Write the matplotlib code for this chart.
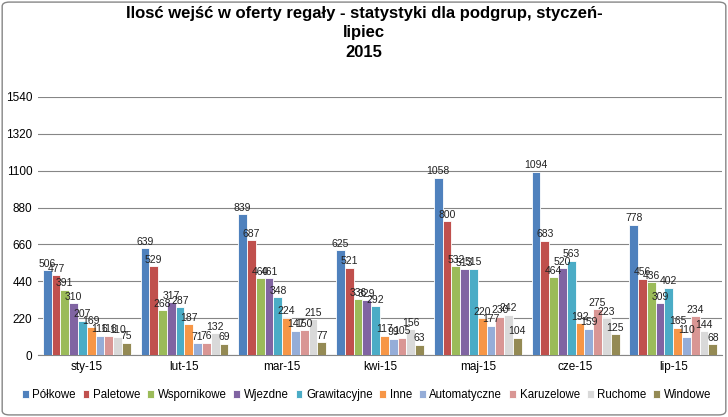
import matplotlib.pyplot as plt
import numpy as np
from matplotlib.patches import FancyBboxPatch

months = ["sty-15", "lut-15", "mar-15", "kwi-15", "maj-15", "cze-15", "lip-15"]
series_names = ["Półkowe", "Paletowe", "Wspornikowe", "Wjezdne", "Grawitacyjne",
                "Inne", "Automatyczne", "Karuzelowe", "Ruchome", "Windowe"]
polkowe = [506, 639, 839, 625, 1058, 1094, 778]
paletowe = [477, 529, 687, 521, 800, 683, 456]
wspornikowe = [391, 268, 460, 336, 532, 464, 436]
wjezdne = [310, 317, 461, 329, 513, 520, 309]
grawitacyjne = [207, 287, 348, 292, 515, 563, 402]
inne = [169, 187, 224, 117, 220, 192, 165]
automatyczne = [116, 71, 147, 99, 177, 159, 110]
karuzelowe = [116, 76, 150, 105, 230, 275, 234]
ruchome = [110, 132, 215, 156, 242, 223, 144]
windowe = [75, 69, 77, 63, 104, 125, 68]
series = [polkowe, paletowe, wspornikowe, wjezdne, grawitacyjne,
          inne, automatyczne, karuzelowe, ruchome, windowe]
colors = ["#4F81BD", "#C0504D", "#9BBB59", "#8064A2", "#4BACC6",
          "#F79646", "#95ADD8", "#D99694", "#D9D9D9", "#948A54"]
yticks = [0, 220, 440, 660, 880, 1100, 1320, 1540]

plt.rcParams['font.family'] = ['Liberation Sans Narrow', 'Liberation Sans', 'DejaVu Sans']

fig = plt.figure(figsize=(7.28, 4.17), dpi=100)
ax = fig.add_axes([0.052, 0.148, 0.94, 0.62])

x = np.arange(len(months))
w = 0.09
for i, (name, vals, c) in enumerate(zip(series_names, series, colors)):
    pos = x + (i - 4.5) * w
    ax.bar(pos, vals, width=w, color=c, edgecolor="white", linewidth=0.6,
           label=name, zorder=3)
    for p, v in zip(pos, vals):
        ax.text(p, v + 8, str(v), ha="center", va="bottom", fontsize=7.5,
                family=["Liberation Sans", "DejaVu Sans"],
                color="#222222", zorder=4)

ax.set_xlim(-0.5, len(months) - 0.5)
ax.set_ylim(0, 1540)
ax.set_yticks(yticks)
ax.set_yticklabels([str(t) for t in yticks], fontsize=8.5)
ax.set_xticks(x)
ax.set_xticklabels(months, fontsize=8.5)
ax.tick_params(axis="both", length=0, pad=4)
ax.yaxis.grid(True, color="#868686", linewidth=0.8, zorder=0)
for s in ["top", "right", "left"]:
    ax.spines[s].set_visible(False)
ax.spines["bottom"].set_color("#868686")

fig.suptitle("Ilosć wejść w oferty regały - statystyki dla podgrup, styczeń-\nlipiec\n2015",
             fontsize=12, fontweight="bold", y=0.985, linespacing=1.35)

ax.legend(loc="upper center", bbox_to_anchor=(0.48, -0.09), ncol=10,
          frameon=False, fontsize=8.3, handlelength=0.6, handleheight=0.6,
          handletextpad=0.3, columnspacing=0.6)

fig.patches.append(FancyBboxPatch((0.003, 0.005), 0.994, 0.99,
                                  boxstyle="round,pad=0,rounding_size=0.01",
                                  transform=fig.transFigure, fill=False,
                                  edgecolor="#868686", linewidth=1))

fig.savefig("out.png", dpi=100)
